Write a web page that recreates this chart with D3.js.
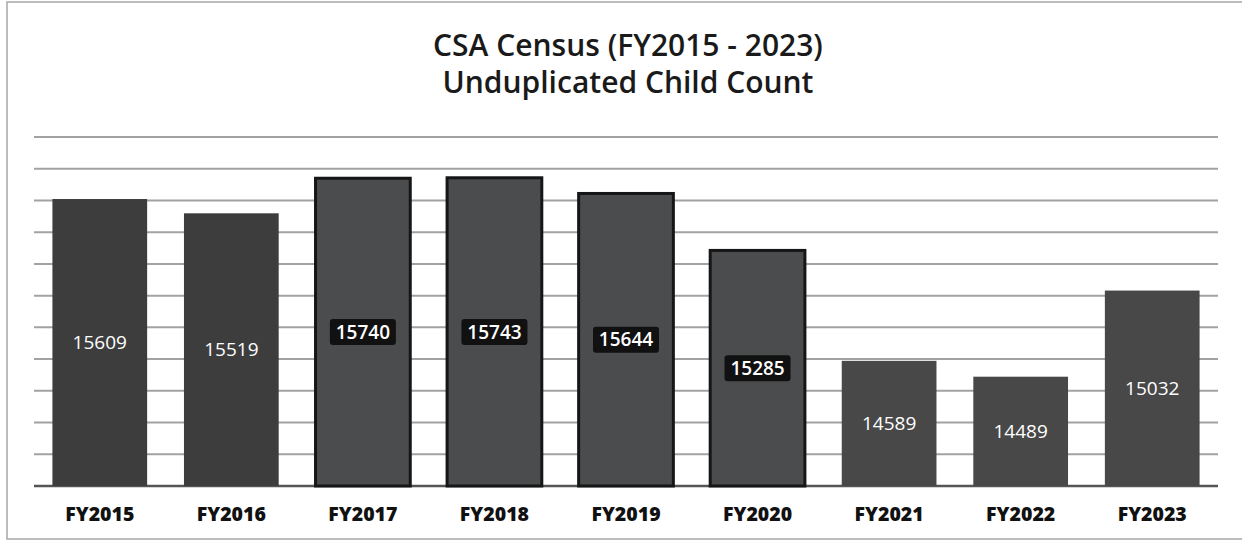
<!DOCTYPE html>
<html>
<head>
<meta charset="utf-8">
<script src="https://cdn.jsdelivr.net/npm/d3@7"></script>
<style>
  html, body { margin: 0; padding: 0; background: #fff; }
  svg { display: block; }
</style>
</head>
<body>
<svg id="chart" width="1242" height="542"></svg>
<script>
// ---- data ----
const categories = ["FY2015", "FY2016", "FY2017", "FY2018", "FY2019", "FY2020", "FY2021", "FY2022", "FY2023"];
const counts = [15609, 15519, 15740, 15743, 15644, 15285, 14589, 14489, 15032];
const gridValues = [13800, 14000, 14200, 14400, 14600, 14800, 15000, 15200, 15400, 15600, 15800, 16000];
const titleLines = ["CSA Census (FY2015 - 2023)", "Unduplicated Child Count"];

// ---- layout ----
const W = 1242, H = 542;
const plot = { left: 34, right: 1218, top: 137, bottom: 486 };
const svg = d3.select("#chart");

const x = d3.scaleBand().domain(categories).range([plot.left, plot.right]).paddingInner(0.28).paddingOuter(0.14);
const y = d3.scaleLinear().domain([13800, 16000]).range([plot.bottom, plot.top]);

// frame (top, left, bottom)
svg.append("path")
  .attr("d", `M${W},2 L7,2 L7,539 L${W},539`)
  .attr("fill", "none").attr("stroke", "#a8a8a8").attr("stroke-width", 1.5);

// title
const title = svg.append("text").attr("text-anchor", "middle")
  .attr("font-family", "'Open Sans', 'Noto Sans', sans-serif").attr("font-size", 30)
  .attr("font-weight", 600)
  .attr("fill", "#1a1a1a");
titleLines.forEach((t, i) => {
  title.append("tspan").attr("x", 628).attr("y", 56 + i * 37).text(t);
});

// gridlines
svg.append("g").selectAll("line").data(gridValues).join("line")
  .attr("x1", plot.left).attr("x2", plot.right)
  .attr("y1", d => y(d)).attr("y2", d => y(d))
  .attr("stroke", (d, i) => i === 0 ? "#555" : "#a2a2a2")
  .attr("stroke-width", (d, i) => i === 0 ? 2.5 : 2);

// bar styles by position (appearance only)
const outlined = new Set(["FY2017", "FY2018", "FY2019", "FY2020"]);
const fillFor = c => outlined.has(c) ? "#4b4c4d" : (["FY2015", "FY2016"].includes(c) ? "#3d3d3d" : "#484848");

const data = categories.map((c, i) => ({ c, v: counts[i] }));

svg.append("g").selectAll("rect").data(data).join("rect")
  .attr("x", d => x(d.c)).attr("width", x.bandwidth())
  .attr("y", d => y(d.v)).attr("height", d => y.range()[0] - y(d.v))
  .attr("fill", d => fillFor(d.c))
  .attr("stroke", d => outlined.has(d.c) ? "#161616" : "none")
  .attr("stroke-width", 3);

// value labels
const lbl = svg.append("g").selectAll("g").data(data).join("g")
  .attr("transform", d => `translate(${x(d.c) + x.bandwidth() / 2},${(y(d.v) + y.range()[0]) / 2})`);

lbl.filter(d => outlined.has(d.c)).append("rect")
  .attr("x", -33).attr("y", -13).attr("width", 66).attr("height", 26).attr("rx", 3)
  .attr("fill", "#111");

lbl.append("text")
  .attr("text-anchor", "middle").attr("dy", "0.35em")
  .attr("font-family", "'Open Sans', 'Noto Sans', sans-serif")
  .attr("font-size", 19)
  .attr("font-weight", d => outlined.has(d.c) ? 600 : 400)
  .attr("fill", "#fff")
  .text(d => d.v);

// x axis labels
svg.append("g").selectAll("text").data(categories).join("text")
  .attr("x", d => x(d) + x.bandwidth() / 2).attr("y", 521)
  .attr("text-anchor", "middle")
  .attr("font-family", "'Open Sans', 'Noto Sans', sans-serif")
  .attr("font-size", 19.5).attr("font-weight", 800)
  .attr("fill", "#111")
  .text(d => d);
</script>
</body>
</html>
